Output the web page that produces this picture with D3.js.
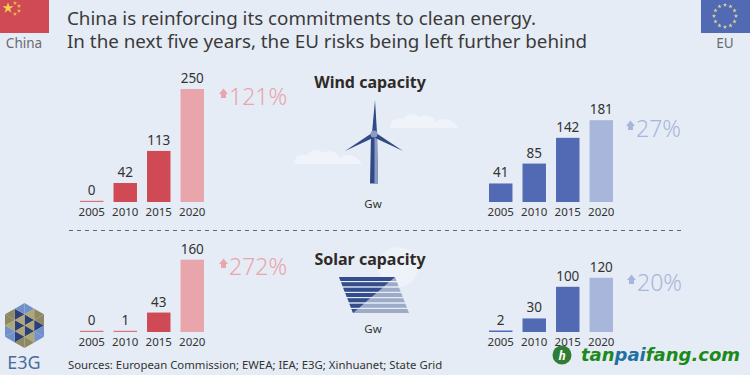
<!DOCTYPE html>
<html>
<head>
<meta charset="utf-8">
<script src="https://cdn.jsdelivr.net/npm/d3@7"></script>
<style>
    html, body { margin: 0; padding: 0; background: #e6ecf5; overflow: hidden; }
    text { font-family: "Noto Sans", "Open Sans", sans-serif; }
</style>
</head>
<body>
<svg id="chart" width="750" height="375"></svg>
<script>
const years = ["2005", "2010", "2015", "2020"];
const chinaWind = [0, 42, 113, 250];
const euWind = [41, 85, 142, 181];
const chinaSolar = [0, 1, 43, 160];
const euSolar = [2, 30, 100, 120];
const titleLines = [
    "China is reinforcing its commitments to clean energy.",
    "In the next five years, the EU risks being left further behind"
];
const sources = "Sources: European Commission; EWEA; IEA; E3G; Xinhuanet; State Grid";

const svg = d3.select("#chart");
const RED = "#cf4a55", RED_LIGHT = "#e9a5ac", BLUE = "#5269b3", BLUE_LIGHT = "#a9b6dc";
const DARK = "#333333", GREY = "#666b70";

svg.append("rect").attr("width", 750).attr("height", 375).attr("fill", "#e6ecf5");

// same height scale for all four panels
const y = d3.scaleLinear([0, 250], [0, 113]);

function barPanel(values, left, baseline, color, lightColor, minH) {
    const x = d3.scaleBand().domain(years).range([left, left + 124]).paddingInner(0.3).paddingOuter(0);
    const g = svg.append("g");

    g.selectAll("rect").data(values).join("rect")
        .attr("x", (d, i) => x(years[i]))
        .attr("width", x.bandwidth())
        .attr("y", d => baseline - Math.max(y(d), minH))
        .attr("height", d => Math.max(y(d), minH))
        .attr("fill", (d, i) => i === 3 ? lightColor : color)
        .attr("fill-opacity", (d, i) => (d < 2 && color === RED) ? 0.75 : 1);

    g.selectAll(".val").data(values).join("text").attr("class", "val")
        .attr("x", (d, i) => x(years[i]) + x.bandwidth() / 2)
        .attr("y", d => baseline - Math.max(y(d), minH) - 6)
        .attr("text-anchor", "middle")
        .attr("font-size", 13.5).attr("fill", DARK)
        .text(d => d);

    const axis = d3.axisBottom(x).tickSize(0).tickPadding(0);
    const ax = g.append("g").attr("transform", `translate(0,${baseline + 6})`).call(axis);
    ax.select(".domain").remove();
    ax.selectAll("text").attr("font-size", 11.5).attr("fill", DARK)
        .style("font-family", '"Noto Sans", sans-serif');
}

function growth(label, xPos, yPos, color) {
    const g = svg.append("g").attr("transform", `translate(${xPos},${yPos})`);
    g.append("path").attr("d", "M-10,-11 L-5.5,-16.5 L-1,-11 L-3,-11 L-3,-7 L-8,-7 L-8,-11 Z").attr("fill", color);
    g.append("text").attr("x", 0).attr("font-size", 23).attr("font-weight", 300).attr("fill", color).text(label);
}

barPanel(chinaWind, 80, 202, RED, RED_LIGHT, 1.2);
barPanel(euWind, 489, 202, BLUE, BLUE_LIGHT, 1.5);
barPanel(chinaSolar, 80, 332, RED, RED_LIGHT, 1.2);
barPanel(euSolar, 489, 332, BLUE, BLUE_LIGHT, 1.5);

growth("121%", 229, 105, RED_LIGHT);
growth("27%", 636, 137, BLUE_LIGHT);
growth("272%", 229, 275, RED_LIGHT);
growth("20%", 637, 291, BLUE_LIGHT);

// header
svg.selectAll(".title").data(titleLines).join("text").attr("class", "title")
    .attr("x", 67).attr("y", (d, i) => 25 + i * 23)
    .attr("font-size", 18.8).attr("fill", "#3a3a3a")
    .text(d => d);

// flags
svg.append("rect").attr("width", 49).attr("height", 33).attr("fill", RED);
const star = d3.symbol().type(d3.symbolStar);
svg.append("path").attr("d", star.size(38)()).attr("transform", "translate(8,8)").attr("fill", "#f5cf4f");
[[15, 3], [19, 6], [19, 11], [15, 14]].forEach(p => {
    svg.append("path").attr("d", star.size(6)()).attr("transform", `translate(${p})`).attr("fill", "#f0b84a");
});
svg.append("text").attr("x", 24).attr("y", 48).attr("text-anchor", "middle")
    .attr("font-size", 13.5).attr("fill", GREY).text("China");

svg.append("rect").attr("x", 701).attr("width", 49).attr("height", 33).attr("fill", BLUE);
d3.range(12).forEach(i => {
    const a = i * Math.PI / 6;
    svg.append("path").attr("d", star.size(6)())
        .attr("transform", `translate(${725 + 11 * Math.sin(a)},${16 - 11 * Math.cos(a)})`)
        .attr("fill", "#d8d49a");
});
svg.append("text").attr("x", 725).attr("y", 48).attr("text-anchor", "middle")
    .attr("font-size", 13.5).attr("fill", GREY).text("EU");

// section titles
svg.append("text").attr("x", 370).attr("y", 88).attr("text-anchor", "middle")
    .attr("font-size", 16).attr("font-weight", 700).attr("fill", "#2e2a28").text("Wind capacity");
svg.append("circle").attr("cx", 398).attr("cy", 267).attr("r", 20).attr("fill", "#eef2f9");
svg.append("text").attr("x", 370).attr("y", 265).attr("text-anchor", "middle")
    .attr("font-size", 16).attr("font-weight", 700).attr("fill", "#2e2a28").text("Solar capacity");
svg.append("text").attr("x", 373).attr("y", 208).attr("text-anchor", "middle")
    .attr("font-size", 11.5).attr("fill", DARK).text("Gw");
svg.append("text").attr("x", 373).attr("y", 333).attr("text-anchor", "middle")
    .attr("font-size", 11.5).attr("fill", DARK).text("Gw");

// clouds
function cloud(dx, dy) {
    const g = svg.append("g").attr("transform", `translate(${dx},${dy})`).attr("fill", "#f0f4fa");
    g.append("path").attr("d", "M0,14 C0,7 6,3 13,5 C17,-1 26,-1 30,3 C36,-1 44,2 46,9 C50,3 62,3 68,14 Z");
}
cloud(294, 150);
cloud(390, 114);

// turbine
const turbine = svg.append("g");
turbine.append("path").attr("d", "M371,134 L377,134 L378,183.5 L370,183.5 Z").attr("fill", "#2f4a85");
turbine.append("path").attr("d", "M374.5,134 L377,134 L378,183.5 L374.5,183.5 Z").attr("fill", "#8a9cc4");
turbine.append("path").attr("d", "M375,100 L372,133 L377,133 Z").attr("fill", "#2f4a85");
turbine.append("path").attr("d", "M345,151 L372,133 L375,137 Z").attr("fill", "#2f4a85");
turbine.append("path").attr("d", "M403,151 L376,133 L373,137 Z").attr("fill", "#2f4a85");
turbine.append("circle").attr("cx", 374).attr("cy", 134).attr("r", 3.5).attr("fill", "#8a9cc4");

// solar panel, split along its diagonal
const panel = svg.append("g");
const stripes = d3.range(7);
const stripeY = d3.scaleBand().domain(stripes).range([277, 313]).paddingInner(0.25);
const edge = yy => 339 + (yy - 277) * 14 / 36;
stripes.forEach(i => {
    const t = stripeY(i), b = t + stripeY.bandwidth();
    panel.append("path").attr("fill", "#9dabc9")
        .attr("d", `M${edge(t)},${t} L${edge(t) + 56},${t} L${edge(b) + 56},${b} L${edge(b)},${b} Z`);
});
stripes.forEach(i => {
    const t = stripeY(i), b = t + stripeY.bandwidth();
    const rt = 395 - (t - 277) * 42 / 36, rb = 395 - (b - 277) * 42 / 36;
    panel.append("path").attr("fill", "#344d8c")
        .attr("d", `M${edge(t)},${t} L${rt},${t} L${rb},${b} L${edge(b)},${b} Z`);
});

// divider
svg.append("line").attr("x1", 69).attr("x2", 682).attr("y1", 230.5).attr("y2", 230.5)
    .attr("stroke", "#666").attr("stroke-width", 1).attr("stroke-dasharray", "4,4");

// E3G logo: hexagon made of 6 sectors, 4 small triangles in each
const cx = 24.5, cy = 325.5, R = 22.5;
const hex = d3.range(6).map(i => {
    const a = i * Math.PI / 3;
    return [cx + R * Math.sin(a), cy - R * Math.cos(a)];
});
const mid = (a, b) => [(a[0] + b[0]) / 2, (a[1] + b[1]) / 2];
const logo = svg.append("g");
const NAVY = "#2c3f78", OLIVE = "#b0a874", SKY = "#7391c9", DUN = "#8d8a63";
const innerColors = [NAVY, OLIVE, NAVY, OLIVE, NAVY, OLIVE];
const midColors = [OLIVE, NAVY, OLIVE, NAVY, OLIVE, NAVY];
const outerA = [SKY, DUN, SKY, DUN, SKY, DUN];
const outerB = [DUN, SKY, DUN, SKY, DUN, SKY];
hex.forEach((p, i) => {
    const q = hex[(i + 1) % 6];
    const c = [cx, cy], mp = mid(c, p), mq = mid(c, q), mo = mid(p, q);
    [[c, mp, mq, innerColors[i]], [mp, mo, mq, midColors[i]], [mp, p, mo, outerA[i]], [mq, mo, q, outerB[i]]].forEach(t => {
        logo.append("path").attr("d", `M${t[0]} L${t[1]} L${t[2]} Z`).attr("fill", t[3]);
    });
});
svg.append("text").attr("x", 24).attr("y", 369).attr("text-anchor", "middle")
    .attr("font-size", 18).attr("fill", "#4a6c9c").text("E3G");

svg.append("text").attr("x", 68).attr("y", 369).attr("font-size", 11.35).attr("fill", DARK).text(sources);

// watermark
svg.append("circle").attr("cx", 562).attr("cy", 355).attr("r", 9.5).attr("fill", "#2e7d32");
svg.append("text").attr("x", 562).attr("y", 359.5).attr("text-anchor", "middle")
    .attr("font-size", 12).attr("font-weight", 700).attr("font-style", "italic").attr("fill", "#fff").text("h");
const mark = svg.append("text").attr("x", 581).attr("y", 361)
    .attr("font-size", 18).attr("font-weight", 700).attr("font-style", "italic")
    .style("font-family", '"DejaVu Sans", sans-serif').attr("fill", "#1b8a1b");
mark.append("tspan").text("tan");
mark.append("tspan").attr("fill", "#1f6f9f").text("pai");
mark.append("tspan").text("fang.com");
</script>
</body>
</html>
